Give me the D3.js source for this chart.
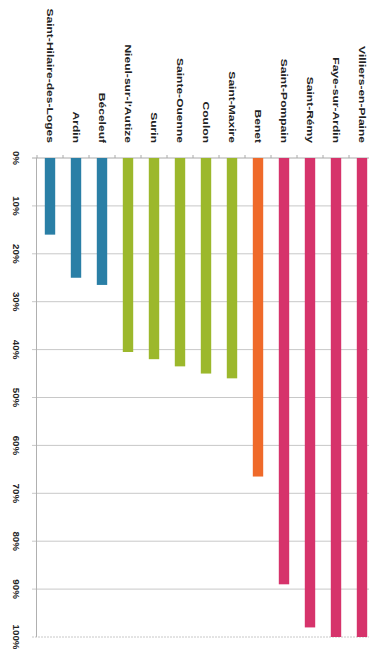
<!DOCTYPE html>
<html>
<head>
<meta charset="utf-8">
<style>
  body { margin: 0; background: #fff; }
  svg { display: block; }
  text { font-family: "Liberation Sans", Arial, sans-serif; font-weight: bold; fill: #222; }
</style>
</head>
<body>
<script src="https://d3js.org/d3.v7.min.js"></script>
<script>

var width = 369,
    height = 649;

// communes, from top-left of the picture
var communes = [
  "Saint-Hilaire-des-Loges", "Ardin", "Béceleuf", "Nieul-sur-l'Autize",
  "Surin", "Sainte-Ouenne", "Coulon", "Saint-Maxire", "Benet",
  "Saint-Pompain", "Saint-Rémy", "Faye-sur-Ardin", "Villiers-en-Plaine"
];

// share in %
var values = [16, 25, 26.5, 40.5, 42, 43.5, 45, 46, 66.5, 89, 98, 100, 100];

// colour group of each bar
var groups = [0, 0, 0, 1, 1, 1, 1, 1, 2, 3, 3, 3, 3];
var colors = ["#2a7fa6", "#9cb82c", "#ef6a2a", "#d6336b"];

var ticks = [0, 10, 20, 30, 40, 50, 60, 70, 80, 90, 100];

var svg = d3.select("body").append("svg")
    .attr("width", width)
    .attr("height", height);

var y = d3.scaleLinear().domain([0, 100]).range([158, 637]);

var x = d3.scaleBand()
    .domain(communes)
    .range([37, 375])
    .paddingInner(0.6)
    .paddingOuter(0.3);

// gridlines
svg.append("g")
  .selectAll("line")
  .data(ticks)
  .enter().append("line")
    .attr("x1", 32)
    .attr("x2", width)
    .attr("y1", function(d) { return y(d); })
    .attr("y2", function(d) { return y(d); })
    .attr("stroke", function(d) { return d == 0 ? "#aaa" : "#c8c8c8"; })
    .attr("stroke-width", 1)
    .attr("stroke-dasharray", function(d) { return d == 100 ? "2,1" : null; });

// value axis line
svg.append("line")
    .attr("x1", 36.5).attr("x2", 36.5)
    .attr("y1", y(0)).attr("y2", y(100))
    .attr("stroke", "#b0b0b0");

// small ticks between bars along the zero line
var step = x.step();
svg.append("g")
  .selectAll("line")
  .data(communes)
  .enter().append("line")
    .attr("x1", function(d) { return x(d) - step * 0.3; })
    .attr("x2", function(d) { return x(d) - step * 0.3; })
    .attr("y1", y(0) - 3)
    .attr("y2", y(0))
    .attr("stroke", "#aaa");

// tick labels, turned
svg.append("g")
  .selectAll("text")
  .data(ticks)
  .enter().append("text")
    .attr("transform", function(d) { return "translate(16," + y(d) + ") rotate(90) scale(1.15,1)"; })
    .attr("text-anchor", "middle")
    .attr("dy", "0.35em")
    .style("font-size", "8.5px")
    .text(function(d) { return d + "%"; });

// bars
svg.append("g")
  .selectAll("rect")
  .data(values)
  .enter().append("rect")
    .attr("x", function(d, i) { return x(communes[i]); })
    .attr("y", y(0))
    .attr("width", x.bandwidth())
    .attr("height", function(d) { return y(d) - y(0); })
    .attr("fill", function(d, i) { return colors[groups[i]]; });

// commune names, turned and stretched along the text
svg.append("g")
  .selectAll("text")
  .data(communes)
  .enter().append("text")
    .attr("transform", function(d) { return "translate(" + (x(d) + x.bandwidth() / 2) + ",143) rotate(90) scale(1.27,1)"; })
    .attr("text-anchor", "end")
    .attr("dy", "0.35em")
    .style("font-size", "9.5px")
    .text(function(d) { return d; });

</script>
</body>
</html>
